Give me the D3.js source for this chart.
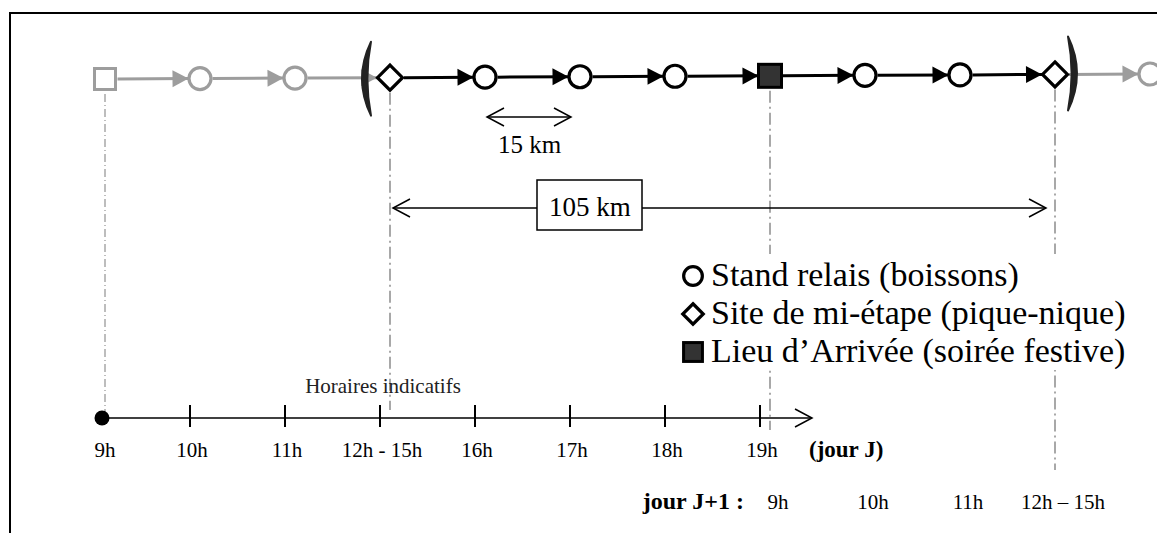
<!DOCTYPE html>
<html>
<head>
<meta charset="utf-8">
<script src="https://cdn.jsdelivr.net/npm/d3@7"></script>
<style>
  body { margin: 0; background: #fff; }
  text { font-family: "Liberation Serif", "Times New Roman", Times, serif; }
</style>
</head>
<body>
<svg id="chart" width="1157" height="533"></svg>
<script>
// stops along the route, one per hour of riding (15 km each)
const stopTypes = ["start", "relais", "relais", "mid", "relais", "relais", "relais",
                   "arrival", "relais", "relais", "mid", "relais"];
const stageFirst = 3, stageLast = 10;       // stops inside the brackets (one day stage)
const guideStops = [0, 3, 7, 10];           // stops with a dash-dot guide line
const stepKm = 15, stageKm = 105;

// time axis labels
const dayOneHours = ["9h", "10h", "11h", "12h - 15h", "16h", "17h", "18h", "19h"];
const dayTwoHours = ["9h", "10h", "11h", "12h \u2013 15h"];
const dayOneLabel = "(jour J)", dayTwoLabel = "jour J+1 :";
const axisTitle = "Horaires indicatifs";

// legend
const legendTypes = ["relais", "mid", "arrival"];
const legendLabels = ["Stand relais (boissons)", "Site de mi-\u00e9tape (pique-nique)",
                      "Lieu d\u2019Arriv\u00e9e (soir\u00e9e festive)"];

let svg = d3.select("#chart"),
    grey = "#9d9d9d",
    dark = "#333";

let x = d3.scaleLinear().domain([0, stopTypes.length - 1]).range([105, 1150]),
    y = d3.scaleLinear().domain([0, stopTypes.length - 1]).range([79, 74]);

function inStage(i) { return i >= stageFirst && i <= stageLast; }
function halfSize(t) { return t === "mid" ? 14 : 12.5; }

// frame
svg.append("path")
  .attr("d", "M10,533 V13 H1157")
  .attr("fill", "none").attr("stroke", "#000").attr("stroke-width", 2);

// markers
let defs = svg.append("defs");
[["headBlack", "#000"], ["headGrey", grey]].forEach(function(m) {
  defs.append("marker")
    .attr("id", m[0]).attr("markerUnits", "userSpaceOnUse")
    .attr("viewBox", "-18 -10 19 20").attr("refX", 0).attr("refY", 0)
    .attr("markerWidth", 19).attr("markerHeight", 20).attr("orient", "auto")
    .append("path").attr("d", "M-16,-8.5 L0,0 L-16,8.5 Z").attr("fill", m[1]);
});
defs.append("marker")
  .attr("id", "chevron").attr("markerUnits", "userSpaceOnUse")
  .attr("viewBox", "-20 -12 22 24").attr("refX", 0).attr("refY", 0)
  .attr("markerWidth", 22).attr("markerHeight", 24).attr("orient", "auto-start-reverse")
  .append("path").attr("d", "M-17,-9 L0,0 L-17,9")
  .attr("fill", "none").attr("stroke", "#000").attr("stroke-width", 1.5);

// dash-dot guide lines from the key stops down to the time axis
const guideEnd = {0: 417, 3: 410, 7: 430, 10: 470};
svg.append("g").selectAll("line")
  .data(guideStops).enter().append("line")
  .attr("x1", function(d) { return x(d); })
  .attr("x2", function(d) { return x(d); })
  .attr("y1", function(d) { return y(d) + 15; })
  .attr("y2", function(d) { return guideEnd[d]; })
  .attr("stroke", "#a8a8a8")
  .attr("stroke-width", function(d) { return d === 0 ? 1.5 : 2; })
  .attr("stroke-dasharray", function(d) { return d === 0 ? "8,3,1,3" : "12,4,2,4"; });

// arrows between consecutive stops
let segs = d3.range(stopTypes.length - 1);
svg.append("g").selectAll("line")
  .data(segs).enter().append("line")
  .attr("x1", function(i) { return x(i) + halfSize(stopTypes[i]); })
  .attr("y1", function(i) { return y(i); })
  .attr("x2", function(i) { return x(i + 1) - halfSize(stopTypes[i + 1]) + 1; })
  .attr("y2", function(i) { return y(i + 1); })
  .attr("stroke", function(i) { return inStage(i) && inStage(i + 1) ? "#000" : grey; })
  .attr("stroke-width", 3)
  .attr("marker-end", function(i) { return inStage(i) && inStage(i + 1) ? "url(#headBlack)" : "url(#headGrey)"; });

// stop symbols
function drawSymbol(sel, t, cx, cy, col, s) {
  s = s || 1;
  if (t === "relais") {
    sel.append("circle").attr("cx", cx).attr("cy", cy).attr("r", 11 * s)
      .attr("fill", "#fff").attr("stroke", col).attr("stroke-width", 3.2);
  } else if (t === "mid") {
    let h = 12.5 * s;
    sel.append("path")
      .attr("d", "M" + cx + "," + (cy - h) + " L" + (cx + h) + "," + cy + " L" + cx + "," + (cy + h) + " L" + (cx - h) + "," + cy + " Z")
      .attr("fill", "#fff").attr("stroke", col).attr("stroke-width", 3.2);
  } else {
    let h = (t === "arrival" ? 11.5 : 10.5) * s;
    sel.append("rect").attr("x", cx - h).attr("y", cy - h)
      .attr("width", 2 * h).attr("height", 2 * h)
      .attr("fill", t === "arrival" ? dark : "#fff")
      .attr("stroke", t === "arrival" ? "#000" : col).attr("stroke-width", 3);
  }
}
let nodes = svg.append("g");
stopTypes.forEach(function(t, i) {
  drawSymbol(nodes, t, x(i), y(i), inStage(i) ? "#000" : grey);
});

// brackets around the day stage
function bracket(tipX, bulge, cy) {
  let top = cy - 37, bot = cy + 37;
  return "M" + tipX + "," + top +
    " Q" + (tipX + 2 * bulge) + "," + cy + " " + tipX + "," + bot +
    " Q" + (tipX + 2 * bulge * 0.4) + "," + cy + " " + tipX + "," + top + " Z";
}
svg.append("path").attr("d", bracket(x(stageFirst) - 19, -9, y(stageFirst) + 1))
  .attr("fill", "#222").attr("stroke", "#222").attr("stroke-width", 2).attr("stroke-linejoin", "round");
svg.append("path").attr("d", bracket(x(stageLast) + 13, 9, y(stageLast) - 1))
  .attr("fill", "#222").attr("stroke", "#222").attr("stroke-width", 2).attr("stroke-linejoin", "round");

// 15 km step
let stepY = 117;
svg.append("line")
  .attr("x1", x(4) + 2).attr("x2", x(5) - 9).attr("y1", stepY).attr("y2", stepY)
  .attr("stroke", "#000").attr("stroke-width", 1.5)
  .attr("marker-start", "url(#chevron)").attr("marker-end", "url(#chevron)");
svg.append("text")
  .attr("x", (x(4) + x(5)) / 2 - 3).attr("y", 153)
  .attr("text-anchor", "middle").style("font-size", "25px")
  .text(stepKm + " km");

// 105 km stage length
let stageY = 208;
svg.append("line")
  .attr("x1", x(stageFirst) + 3).attr("x2", x(stageLast) - 9).attr("y1", stageY).attr("y2", stageY)
  .attr("stroke", "#000").attr("stroke-width", 1.5)
  .attr("marker-start", "url(#chevron)").attr("marker-end", "url(#chevron)");
let boxX = x(5) + 10;
svg.append("rect")
  .attr("x", boxX - 53).attr("y", stageY - 28).attr("width", 105).attr("height", 50)
  .attr("fill", "#fff").attr("stroke", "#000").attr("stroke-width", 1.5);
svg.append("text")
  .attr("x", boxX).attr("y", stageY + 8)
  .attr("text-anchor", "middle").style("font-size", "27px")
  .text(stageKm + " km");

// legend
let legend = svg.append("g");
legend.append("rect")
  .attr("x", 675).attr("y", 254).attr("width", 470).attr("height", 116)
  .attr("fill", "#fff");
legendTypes.forEach(function(t, i) {
  let by = 286 + i * 38;
  drawSymbol(legend, t, 693, by - 10, "#000", t === "relais" ? 0.85 : 0.82);
  legend.append("text")
    .attr("x", 711).attr("y", by)
    .style("font-size", "34px")
    .text(legendLabels[i]);
});

// time axis (day J)
let axisY = 418, axisEnd = 812;
let axis = svg.append("g");
axis.append("line")
  .attr("x1", x(0)).attr("x2", axisEnd).attr("y1", axisY).attr("y2", axisY)
  .attr("stroke", "#000").attr("stroke-width", 1.5)
  .attr("marker-end", "url(#chevron)");
axis.selectAll(".tick")
  .data(dayOneHours.slice(1)).enter().append("line")
  .attr("class", "tick")
  .attr("x1", function(d, i) { return x(i + 1) - 10; })
  .attr("x2", function(d, i) { return x(i + 1) - 10; })
  .attr("y1", axisY - 13).attr("y2", axisY + 9)
  .attr("stroke", "#000").attr("stroke-width", 2);
axis.append("circle").attr("cx", x(0) - 3).attr("cy", axisY).attr("r", 7.5).attr("fill", "#000");
axis.selectAll(".lab")
  .data(dayOneHours).enter().append("text")
  .attr("class", "lab")
  .attr("x", function(d, i) { return x(i) - (i === 0 ? 0 : 8); })
  .attr("y", 457)
  .attr("text-anchor", "middle").style("font-size", "21px")
  .text(function(d) { return d; });
axis.append("text")
  .attr("x", axisEnd - 3).attr("y", 457)
  .style("font-size", "23px").style("font-weight", "bold")
  .text(dayOneLabel);
axis.append("text")
  .attr("x", (x(2) + x(4)) / 2 - 7).attr("y", 393)
  .attr("text-anchor", "middle").style("font-size", "21px").attr("fill", "#222")
  .text(axisTitle);

// day J+1
axis.append("text")
  .attr("x", x(7) - 26).attr("y", 509)
  .attr("text-anchor", "end").style("font-size", "24px").style("font-weight", "bold")
  .text(dayTwoLabel);
axis.selectAll(".lab2")
  .data(dayTwoHours).enter().append("text")
  .attr("class", "lab2")
  .attr("x", function(d, i) { return x(7 + i) + 8; })
  .attr("y", 509)
  .attr("text-anchor", "middle").style("font-size", "21px")
  .text(function(d) { return d; });
</script>
</body>
</html>
